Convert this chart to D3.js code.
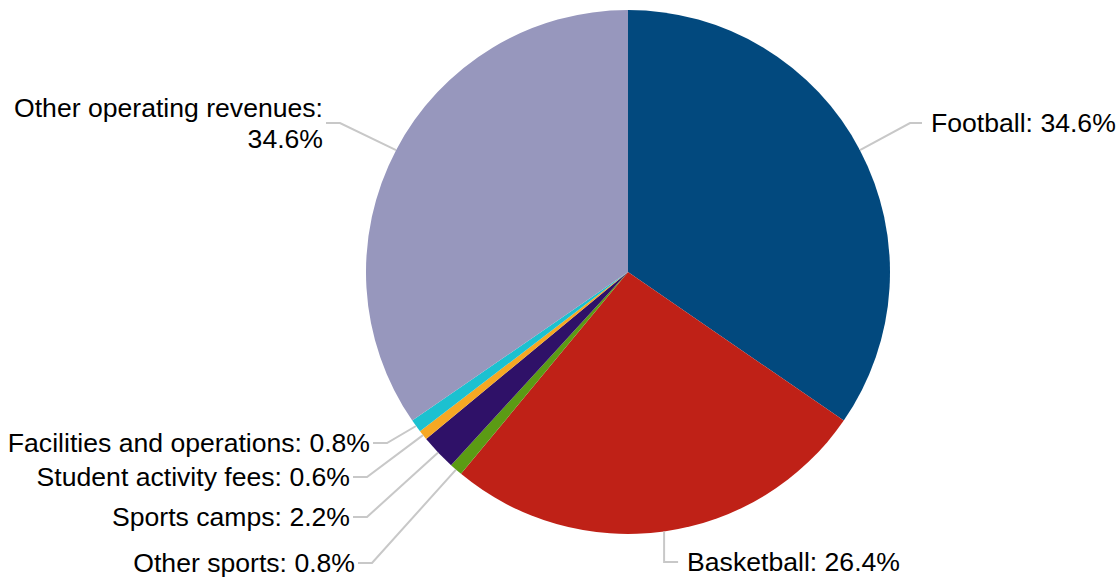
<!DOCTYPE html>
<html>
<head>
<meta charset="utf-8">
<script src="https://cdn.jsdelivr.net/npm/d3@7"></script>
<style>
  body { margin: 0; background: #fff; }
  text { font-family: "Liberation Sans", Arial, sans-serif; font-size: 26.6px; fill: #000; }
</style>
</head>
<body>
<div id="chart"></div>
<script>
// Data
const categories = ["Football", "Basketball", "Other sports", "Sports camps",
  "Student activity fees", "Facilities and operations", "Other operating revenues"];
const shares = [34.6, 26.4, 0.8, 2.2, 0.6, 0.8, 34.6];
const colors = ["#02497e", "#bf2117", "#5b9b14", "#2f1168", "#f6a823", "#1cc1d0", "#9797bd"];

// label layout: which side, elbow x, label centre y
const labelSide = ["right", "right", "left", "left", "left", "left", "left"];
const labelElbowX = [910, 664, 372, 367, 367, 387, 340];
const labelY = [123, 562, 563, 517, 477, 443, 123];

const width = 1118, height = 577;
const cx = 628, cy = 272, radius = 262;

const svg = d3.select("#chart")
  .append("svg")
  .attr("width", width)
  .attr("height", height);

const g = svg.append("g")
  .attr("transform", "translate(" + cx + "," + cy + ")");

const pie = d3.pie().sort(null).value(d => d.value);
const data_ready = pie(categories.map((c, i) => ({ key: c, value: shares[i], i: i })));

const arcGenerator = d3.arc().innerRadius(0).outerRadius(radius);

g.selectAll("path.slice")
  .data(data_ready)
  .enter()
  .append("path")
  .attr("class", "slice")
  .attr("d", arcGenerator)
  .attr("fill", d => colors[d.data.i]);

// leader lines + labels
data_ready.forEach(function (d) {
  const i = d.data.i;
  const mid = (d.startAngle + d.endAngle) / 2;
  const px = cx + radius * Math.sin(mid);
  const py = cy - radius * Math.cos(mid);
  const ex = labelElbowX[i], ey = labelY[i];
  const right = labelSide[i] === "right";
  let pts;
  if (i === 1) {
    // basketball: straight down, then right
    pts = [[px, py], [px, ey], [px + 14, ey]];
  } else {
    pts = [[px, py], [ex, ey], [right ? ex + 12 : ex - 14, ey]];
  }
  svg.append("path")
    .attr("d", d3.line()(pts))
    .attr("fill", "none")
    .attr("stroke", "#c8c8c8")
    .attr("stroke-width", 2);

  const tx = right ? pts[2][0] + 9 : pts[2][0] - 3;
  const label = d.data.key + ": " + d3.format(".1f")(d.data.value) + "%";
  const t = svg.append("text")
    .attr("x", tx)
    .attr("text-anchor", right ? "start" : "end");
  if (i === 6) {
    t.append("tspan").attr("x", tx).attr("y", ey - 6).text(d.data.key + ":");
    t.append("tspan").attr("x", tx).attr("y", ey + 25).text(d3.format(".1f")(d.data.value) + "%");
  } else {
    t.attr("y", ey).attr("dy", "0.35em").text(label);
  }
});
</script>
</body>
</html>
